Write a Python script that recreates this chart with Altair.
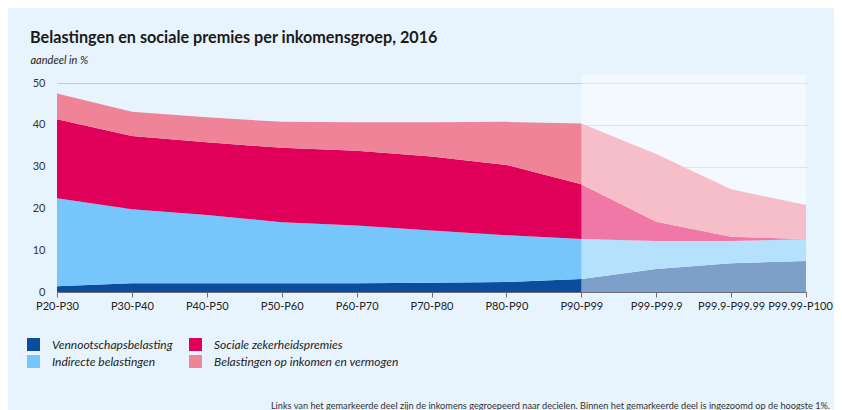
import altair as alt
import pandas as pd

groups = ["P20-P30", "P30-P40", "P40-P50", "P50-P60", "P60-P70", "P70-P80",
          "P80-P90", "P90-P99", "P99-P99.9", "P99.9-P99.99", "P99.99-P100"]
vennoot = [1.4, 2.1, 2.1, 2.1, 2.1, 2.2, 2.4, 3.1, 5.5, 6.9, 7.4]
indirect = [21.0, 17.7, 16.3, 14.6, 13.8, 12.5, 11.2, 9.6, 6.7, 5.3, 5.2]
sociale = [18.9, 17.5, 17.4, 17.8, 17.9, 17.7, 16.8, 13.1, 4.6, 1.0, 0.1]
inkomen = [6.2, 5.8, 6.0, 6.2, 6.8, 8.2, 10.3, 14.5, 16.2, 11.4, 8.1]

series_names = ["Vennootschapsbelasting", "Indirecte belastingen",
                "Sociale zekerheidspremies", "Belastingen op inkomen en vermogen"]
series_values = [vennoot, indirect, sociale, inkomen]
series_colors = ["#0b4c9c", "#76c6fb", "#e0005a", "#ef8499"]

highlight_start = "P90-P99"
highlight_end = "P99.99-P100"
highlight_top = 52

footnote = ("Links van het gemarkeerde deel zijn de inkomens gegroepeerd naar decielen. "
            "Binnen het gemarkeerde deel is ingezoomd op de hoogste 1%.")

rows = []
for si, (name, vals) in enumerate(zip(series_names, series_values)):
    for g, v in zip(groups, vals):
        rows.append({"groep": g, "reeks": name, "waarde": v, "ord": si})
df = pd.DataFrame(rows)

xscale = alt.Scale(type="point", padding=0, domain=groups)
yscale = alt.Scale(domain=[0, 50])

last_label_test = "datum.value == '" + groups[-1] + "'"

areas = alt.Chart(df).mark_area(interpolate="linear").encode(
    x=alt.X("groep:N", scale=xscale, sort=groups,
            axis=alt.Axis(title=None, labelAngle=0, labelFontSize=11,
                          labelColor="#222222", domainColor="#6b6f75",
                          tickColor="#6b6f75", tickSize=5, labelPadding=3,
                          labelFont="Lato", grid=False,
                          labelOffset={"condition": {"test": last_label_test, "value": -6},
                                       "value": 0})),
    y=alt.Y("waarde:Q", stack="zero", scale=yscale,
            axis=alt.Axis(title="aandeel in %", values=[0, 10, 20, 30, 40, 50],
                          grid=True, gridColor="#c5ccd4", domain=False,
                          ticks=False, labelPadding=12, labelFontSize=11,
                          labelColor="#333333", labelFont="Lato",
                          titleAngle=0, titleAlign="left", titleX=-27, titleY=-20,
                          titleBaseline="alphabetic", titleFontStyle="italic",
                          titleFontWeight="normal", titleFontSize=11,
                          titleFont="Lato", titleColor="#222222")),
    color=alt.Color("reeks:N",
                    scale=alt.Scale(domain=series_names, range=series_colors),
                    legend=alt.Legend(title=None, orient="none", legendX=-30,
                                      legendY=255, columns=2, symbolType="square",
                                      symbolSize=169, symbolStrokeWidth=0,
                                      symbolOpacity=1, labelLimit=400,
                                      labelOffset=12, rowPadding=4,
                                      columnPadding=16, labelFontSize=12,
                                      labelFontStyle="italic", labelFont="Lato",
                                      labelColor="#222222")),
    order=alt.Order("ord:Q", sort="ascending"),
)

hl = pd.DataFrame({"x": [highlight_start], "x2": [highlight_end],
                   "y": [0], "y2": [highlight_top]})
overlay = alt.Chart(hl).mark_rect(color="white", opacity=0.47).encode(
    x=alt.X("x:N", scale=xscale, sort=groups),
    x2="x2:N",
    y=alt.Y("y:Q", scale=yscale),
    y2="y2:Q",
)

fn = pd.DataFrame({"t": [footnote]})
note = alt.Chart(fn).mark_text(align="right", baseline="alphabetic", fontSize=9.2,
                               font="Lato", color="#333333").encode(
    text="t:N", x=alt.value(773), y=alt.value(326))

chart = alt.layer(areas, overlay, note).properties(
    width=749, height=209,
    autosize=alt.AutoSizeParams(type="none"),
    padding={"left": 49, "top": 75, "right": 28, "bottom": 118},
    background="#e8f4fd",
    title=alt.TitleParams("Belastingen en sociale premies per inkomensgroep, 2016",
                          anchor="start", dx=3, fontSize=16.2, font="Lato",
                          fontWeight="bold", color="#1a1a1a", offset=8),
).configure_view(stroke=None)

chart.save("out.html", embed_options={"renderer": "svg", "actions": False})
